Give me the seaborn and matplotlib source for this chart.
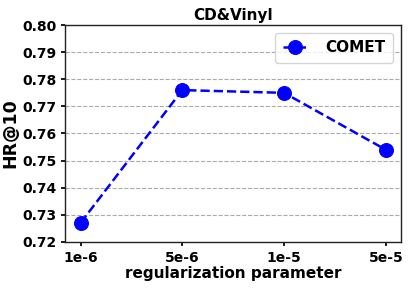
import matplotlib
matplotlib.use("Agg")
import matplotlib.pyplot as plt
import seaborn as sns
import pandas as pd

# Data
reg_params = ["1e-6", "5e-6", "1e-5", "5e-5"]
hr_at_10 = [0.727, 0.776, 0.775, 0.754]
y_ticks = [0.72, 0.73, 0.74, 0.75, 0.76, 0.77, 0.78, 0.79, 0.80]

sns.set_theme(style="white")
plt.rcParams['font.family'] = ['DejaVu Sans']
plt.rcParams['text.color'] = 'black'
plt.rcParams['axes.labelcolor'] = 'black'
plt.rcParams['xtick.color'] = 'black'
plt.rcParams['ytick.color'] = 'black'

df = pd.DataFrame({"x": range(len(reg_params)), "hr": hr_at_10})

fig, ax = plt.subplots(figsize=(4.08, 2.88), dpi=100)
sns.lineplot(data=df, x="x", y="hr", ax=ax, color="blue", linestyle="--",
             linewidth=1.8, marker="o", markersize=10, markeredgecolor="blue",
             label="COMET")

ax.set_xticks(range(len(reg_params)))
ax.set_xticklabels(reg_params, fontweight="bold", fontsize=10)
ax.set_ylim(0.72, 0.80)
ax.set_yticks(y_ticks)
ax.set_yticklabels([f"{t:.2f}" for t in y_ticks], fontweight="bold", fontsize=10)
ax.tick_params(axis="both", length=3, direction="out", bottom=True, left=True)
ax.yaxis.grid(True, linestyle="--", color="#aaaaaa", linewidth=0.8)

for s in ax.spines.values():
    s.set_color("#222222")
    s.set_linewidth(1.0)

ax.set_title("CD&Vinyl", fontweight="bold", fontsize=11, pad=4, color="black")
ax.set_xlabel("regularization parameter", fontweight="bold", fontsize=11, labelpad=1)
ax.set_ylabel("HR@10", fontweight="bold", fontsize=12.5, labelpad=2)

ax.legend(loc="upper right", prop={"weight": "bold", "size": 11}, borderpad=0.5,
          handlelength=1.6, handletextpad=1.2)

plt.subplots_adjust(left=0.16, right=0.983, top=0.913, bottom=0.16)
plt.savefig("out.png", dpi=100)
